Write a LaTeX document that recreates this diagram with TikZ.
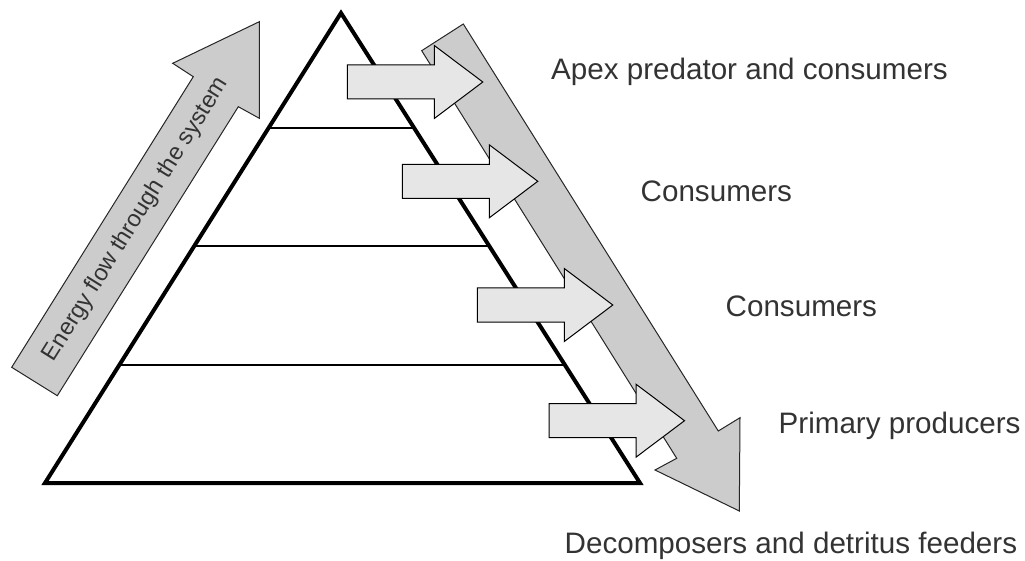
\documentclass[tikz,border=0pt]{standalone}
\usepackage{fontspec}
\setmainfont{Liberation Sans}
\usetikzlibrary{calc}
\definecolor{bigfill}{HTML}{CCCCCC}
\definecolor{smallfill}{HTML}{E6E6E6}
\definecolor{txt}{HTML}{333333}
\begin{document}
\begin{tikzpicture}[x=1pt,y=-1pt,
  bigarr/.style={fill=bigfill, draw=black!85, line width=1pt, line join=miter},
  smallarr/.style={fill=smallfill, draw=black, line width=1pt, line join=miter},
  pyr/.style={line width=4pt, line join=miter},
  level/.style={line width=2pt},
  lab/.style={text=txt, font=\fontsize{29.6}{34}\selectfont, anchor=base west, inner sep=0pt},
  flowlab/.style={text=txt, font=\fontsize{23.5}{27}\selectfont, rotate=58, inner sep=0pt}]
\useasboundingbox (0,0) rectangle (1025,561);
% pyramid
\coordinate (apex) at (341,13);
\coordinate (bl) at (45,483);
\coordinate (br) at (640,483);
\draw[pyr] (apex) -- (bl) -- (br) -- cycle;
\foreach \t in {0.2447,0.4947,0.7489}
  \draw[level] ($(apex)!\t!(bl)$) -- ($(apex)!\t!(br)$);
% big arrows
\draw[bigarr] (11.7,367.3) -- (193.3,76.7) -- (172.7,63.3) -- (259.3,21.7)
  -- (259.3,118.3) -- (238.3,106.7) -- (57.3,395.7) -- cycle;
\draw[bigarr] (421.7,50.7) -- (463.3,24) -- (718.3,431) -- (740,417.7)
  -- (739.3,511) -- (655,470) -- (676.7,458.3) -- cycle;
% small arrows
\foreach \x/\y in {347.3/82, 402.3/181.3, 477.3/305, 549/420.7}
  \draw[smallarr, shift={(\x,\y)}] (0,-17) -- (87,-17) -- (87,-36.5) -- (135.5,0)
    -- (87,36.5) -- (87,17) -- (0,17) -- cycle;
% labels
\node[flowlab] (flow) at (136,219.5) {Energy flow through the system};
\node[lab] (apexlab) at (551,79.3) {Apex predator and consumers};
\node[lab] (cons1) at (640.5,201.7) {Consumers};
\node[lab] (cons2) at (725.5,316.7) {Consumers};
\node[lab] (prim) at (778.5,433.3) {Primary producers};
\node[lab] (decomp) at (564.5,553.5) {Decomposers and detritus feeders};
\end{tikzpicture}
\end{document}
